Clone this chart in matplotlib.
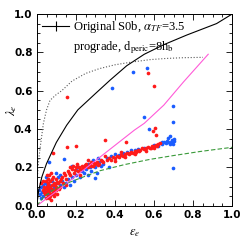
import matplotlib
matplotlib.use("Agg")
import matplotlib.pyplot as plt
from matplotlib.lines import Line2D
from matplotlib.ticker import MultipleLocator

# ellipticity / lambda
red_eps = [0.153, 0.571, 0.60, 0.605, 0.593, 0.608, 0.455, 0.35, 0.203, 0.153, 0.085,
           0.02, 0.03, 0.035, 0.04, 0.045, 0.05, 0.05, 0.055, 0.06, 0.06, 0.065, 0.065, 0.07, 0.07,
           0.075, 0.075, 0.08, 0.08, 0.085, 0.09, 0.09, 0.095, 0.1, 0.1, 0.105, 0.11, 0.115, 0.12,
           0.04, 0.055, 0.065, 0.075, 0.03, 0.045, 0.085, 0.095, 0.06, 0.07, 0.05,
           0.13, 0.14, 0.15, 0.16, 0.17, 0.18, 0.19, 0.2, 0.21, 0.22, 0.23, 0.24, 0.25, 0.26, 0.27,
           0.28, 0.29, 0.3, 0.31, 0.32, 0.33, 0.34, 0.15, 0.12, 0.17, 0.22, 0.26, 0.135, 0.185, 0.205,
           0.36, 0.37, 0.38, 0.39, 0.4, 0.41, 0.42, 0.43, 0.44, 0.45, 0.46, 0.47, 0.48, 0.49, 0.5,
           0.51, 0.52, 0.53, 0.54, 0.55, 0.56, 0.57, 0.58, 0.59, 0.6, 0.61, 0.62, 0.63, 0.4, 0.45,
           0.5, 0.56, 0.6, 0.35, 0.43,
           0.145, 0.165, 0.195, 0.215, 0.235, 0.245, 0.275, 0.295, 0.315, 0.335, 0.105, 0.125,
           0.035, 0.055, 0.08, 0.1, 0.065, 0.09, 0.585, 0.615, 0.525, 0.475]
red_lam = [0.565, 0.69, 0.624, 0.403, 0.39, 0.369, 0.334, 0.345, 0.311, 0.308, 0.275,
           0.12, 0.08, 0.1, 0.06, 0.13, 0.07, 0.1, 0.05, 0.09, 0.12, 0.04, 0.07, 0.1, 0.13,
           0.06, 0.03, 0.09, 0.11, 0.07, 0.05, 0.12, 0.08, 0.1, 0.14, 0.06, 0.12, 0.09, 0.13,
           0.09, 0.14, 0.16, 0.17, 0.13, 0.04, 0.15, 0.11, 0.08, 0.05, 0.16,
           0.15, 0.17, 0.14, 0.18, 0.16, 0.19, 0.17, 0.2, 0.18, 0.19, 0.21, 0.2, 0.22, 0.2, 0.22,
           0.23, 0.21, 0.22, 0.23, 0.22, 0.24, 0.23, 0.11, 0.1, 0.2, 0.16, 0.24, 0.12, 0.21, 0.22,
           0.24, 0.25, 0.24, 0.255, 0.25, 0.26, 0.255, 0.265, 0.26, 0.27, 0.275, 0.27, 0.28, 0.275, 0.285,
           0.28, 0.29, 0.29, 0.3, 0.295, 0.3, 0.305, 0.3, 0.31, 0.31, 0.315, 0.32, 0.325, 0.235, 0.255,
           0.27, 0.285, 0.3, 0.26, 0.28,
           0.16, 0.17, 0.185, 0.2, 0.195, 0.215, 0.21, 0.225, 0.215, 0.235, 0.125, 0.14,
           0.07, 0.11, 0.14, 0.08, 0.1, 0.065, 0.3, 0.31, 0.285, 0.275]

blue_eps = [0.383, 0.494, 0.562, 0.695, 0.549, 0.695, 0.574, 0.695, 0.063, 0.14, 0.315, 0.371,
            0.68, 0.69, 0.70, 0.673, 0.698, 0.685, 0.665,
            0.01, 0.015, 0.02, 0.025, 0.03, 0.03, 0.035, 0.04, 0.045, 0.05, 0.055, 0.06, 0.065, 0.07,
            0.08, 0.09, 0.1, 0.11, 0.12, 0.13, 0.14, 0.15, 0.16, 0.17, 0.18, 0.19, 0.02, 0.045, 0.1,
            0.12, 0.06, 0.085,
            0.2, 0.21, 0.22, 0.23, 0.24, 0.25, 0.26, 0.27, 0.28, 0.29, 0.3, 0.31, 0.32, 0.33, 0.34,
            0.18, 0.2, 0.26, 0.3,
            0.36, 0.38, 0.4, 0.42, 0.44, 0.46, 0.48, 0.5, 0.52, 0.55, 0.6, 0.62, 0.64, 0.65, 0.66,
            0.67, 0.68, 0.69, 0.7, 0.64]
blue_lam = [0.612, 0.699, 0.717, 0.522, 0.461, 0.437, 0.40, 0.195, 0.226, 0.244, 0.25, 0.203,
            0.363, 0.343, 0.346, 0.351, 0.322, 0.335, 0.34,
            0.08, 0.06, 0.1, 0.07, 0.05, 0.11, 0.08, 0.12, 0.07, 0.11, 0.09, 0.06, 0.11, 0.08,
            0.13, 0.1, 0.12, 0.15, 0.11, 0.13, 0.1, 0.12, 0.14, 0.11, 0.15, 0.13, 0.04, 0.15, 0.17,
            0.16, 0.14, 0.06,
            0.16, 0.2, 0.15, 0.18, 0.17, 0.19, 0.16, 0.2, 0.18, 0.24, 0.2, 0.17, 0.23, 0.21, 0.22,
            0.205, 0.185, 0.22, 0.145,
            0.25, 0.26, 0.27, 0.265, 0.275, 0.28, 0.29, 0.29, 0.295, 0.3, 0.315, 0.31, 0.32, 0.33, 0.325,
            0.33, 0.32, 0.33, 0.34, 0.335]

# reference curves
black_eps = [0, 0.01, 0.026, 0.05, 0.1, 0.153, 0.21, 0.3, 0.375, 0.46, 0.55, 0.65, 0.767, 0.92, 1.0]
black_lam = [0, 0.08, 0.15, 0.22, 0.33, 0.42, 0.50, 0.585, 0.655, 0.73, 0.79, 0.84, 0.89, 0.95, 1.0]

dot_eps = [0.003, 0.01, 0.017, 0.034, 0.05, 0.068, 0.1, 0.128, 0.18, 0.25, 0.32, 0.4, 0.49, 0.58, 0.66, 0.75, 0.85]
dot_lam = [0.15, 0.24, 0.3, 0.43, 0.5, 0.55, 0.58, 0.6, 0.65, 0.69, 0.715, 0.735, 0.75, 0.762, 0.768, 0.772, 0.774]

pink_eps = [0, 0.1, 0.2, 0.3, 0.4, 0.5, 0.55, 0.65, 0.75, 0.877]
pink_lam = [0, 0.075, 0.155, 0.235, 0.315, 0.395, 0.43, 0.525, 0.645, 0.79]

green_eps = [0, 0.034, 0.08, 0.153, 0.25, 0.324, 0.45, 0.579, 0.7, 0.835, 1.0]
green_lam = [0, 0.045, 0.08, 0.117, 0.155, 0.183, 0.215, 0.242, 0.262, 0.283, 0.305]

plt.rcParams['mathtext.fontset'] = 'stix'

fig = plt.figure(figsize=(2.45, 2.45), dpi=100)
ax = fig.add_axes([0.15, 0.16, 0.798, 0.783])

ax.plot(black_eps, black_lam, color='k', lw=0.8)
ax.plot(dot_eps, dot_lam, color='0.35', lw=0.8, ls=':')
ax.plot(pink_eps, pink_lam, color='#ff5ad8', lw=0.8)
ax.plot(green_eps, green_lam, color='#3a9a3a', lw=0.8, ls=(0, (4, 2)))

ax.scatter(blue_eps, blue_lam, s=7, color='#1a5cff', lw=0)
ax.scatter(red_eps, red_lam, s=7, color='#ff1a1a', lw=0)

ax.set_xlim(0, 1)
ax.set_ylim(0, 1)
ax.xaxis.set_major_locator(MultipleLocator(0.2))
ax.yaxis.set_major_locator(MultipleLocator(0.2))
ax.xaxis.set_minor_locator(MultipleLocator(0.05))
ax.yaxis.set_minor_locator(MultipleLocator(0.05))
ax.tick_params(which='both', direction='in', top=True, right=True, width=0.6)
ax.tick_params(which='major', length=4, labelsize=7.5, pad=3)
ax.tick_params(which='minor', length=2)
for lab in ax.get_xticklabels() + ax.get_yticklabels():
    lab.set_fontweight('bold')
for sp in ax.spines.values():
    sp.set_linewidth(0.7)

ax.set_xlabel(r'$\epsilon_e$', fontsize=9)
ax.set_ylabel(r'$\lambda_e$', fontsize=9)
ax.xaxis.set_label_coords(0.5, -0.105)
ax.yaxis.set_label_coords(-0.09, 0.5)

handles = [Line2D([], [], color='k', lw=0.8, marker='|', ms=7, mew=0.8),
           Line2D([], [], color='none')]
labels = [r'Original S0b, $\alpha_{TF}$=3.5', r'prograde, d$_{\rm peric}$=8h$_{\rm b}$']
ax.legend(handles, labels, loc='upper left', frameon=False, numpoints=1,
          handlelength=2.2, handletextpad=0.3, labelspacing=0.35,
          borderaxespad=0.0, prop={'family': 'Liberation Serif', 'size': 9})

fig.savefig('out.png', dpi=100)
